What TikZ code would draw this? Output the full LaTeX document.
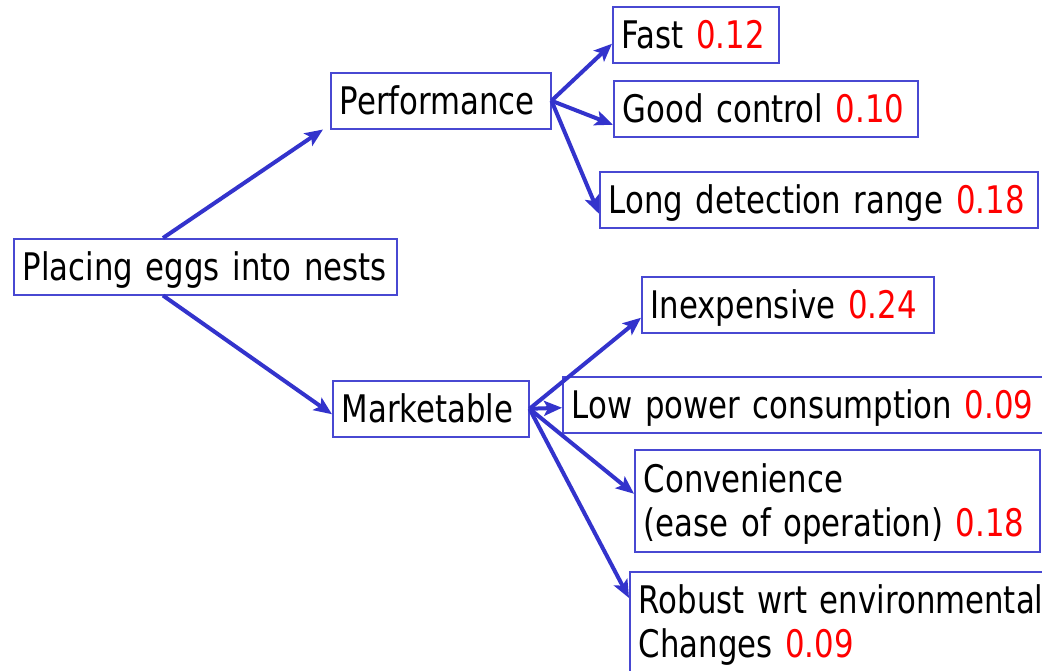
\documentclass[tikz,border=0pt]{standalone}
\usepackage{fontspec}
\setmainfont{DejaVu Sans}[FakeStretch=0.81]
\usepackage{tikz}
\usetikzlibrary{arrows.meta}
\definecolor{linkblue}{RGB}{51,51,204}
\definecolor{boxblue}{RGB}{72,72,210}
\newcommand{\critwt}[1]{\textcolor{red}{#1}}
\tikzset{
  critbox/.style={draw=boxblue, line width=1.5pt, anchor=north west, align=left,
    inner xsep=9pt, inner ysep=9pt, text height=33pt, text depth=5pt,
    font=\fontsize{38}{43.5}\selectfont},
  link/.style={draw=linkblue, line width=4pt, -{Stealth[length=18pt,width=15pt,inset=4pt]}}
}

\begin{document}
\begin{tikzpicture}[x=1pt, y=-1pt]
			%%%%% START %%%%%
			\useasboundingbox (0, 0) rectangle (1042, 670);
			
			\node[critbox, text width=365pt] (root) at (13, 238) {Placing eggs into nests};
			
			\node[critbox, text width=202pt] (perf) at (330, 72) {Performance};
			\node[critbox, text width=178pt] (mkt) at (332, 380) {Marketable};
			
			\node[critbox, text width=148pt] (fast) at (612, 6) {Fast \critwt{0.12}};
			\node[critbox, text width=286pt] (ctrl) at (613, 80) {Good control \critwt{0.10}};
			\node[critbox, text width=420pt] (range) at (599, 171) {Long detection range \critwt{0.18}};
			
			\node[critbox, text width=274pt] (cheap) at (641, 276) {Inexpensive \critwt{0.24}};
			\node[critbox, text width=482pt] (power) at (562, 376) {Low power consumption \critwt{0.09}};
			\node[critbox, text width=387pt, text height=34pt, text depth=50pt] (conv) at (634, 449) {Convenience\\(ease of operation) \critwt{0.18}};
			\node[critbox, text width=442pt, text depth=70pt] (robust) at (629, 571) {Robust wrt environmental\\Changes \critwt{0.09}};
			
			\draw[link] ([xshift=150pt]root.north west) -- ([xshift=-7pt]perf.south west);
			\draw[link] ([xshift=150pt]root.south west) -- ([yshift=-5.5pt]mkt.west);
			
			\draw[link] (perf.east) -- ([yshift=-9pt]fast.west);
			\draw[link] (perf.east) -- ([yshift=-16pt]ctrl.west);
			\draw[link] (perf.east) -- ([yshift=-14pt]range.west);
			
			\draw[link] (mkt.east) -- ([yshift=-13pt]cheap.west);
			\draw[link] (mkt.east) -- ([yshift=-3pt]power.west);
			\draw[link] (mkt.east) -- ([yshift=7pt]conv.west);
			\draw[link] (mkt.east) -- ([yshift=-27pt]robust.north west);
			
			%%%%% END %%%%%
		\end{tikzpicture}
\end{document}
